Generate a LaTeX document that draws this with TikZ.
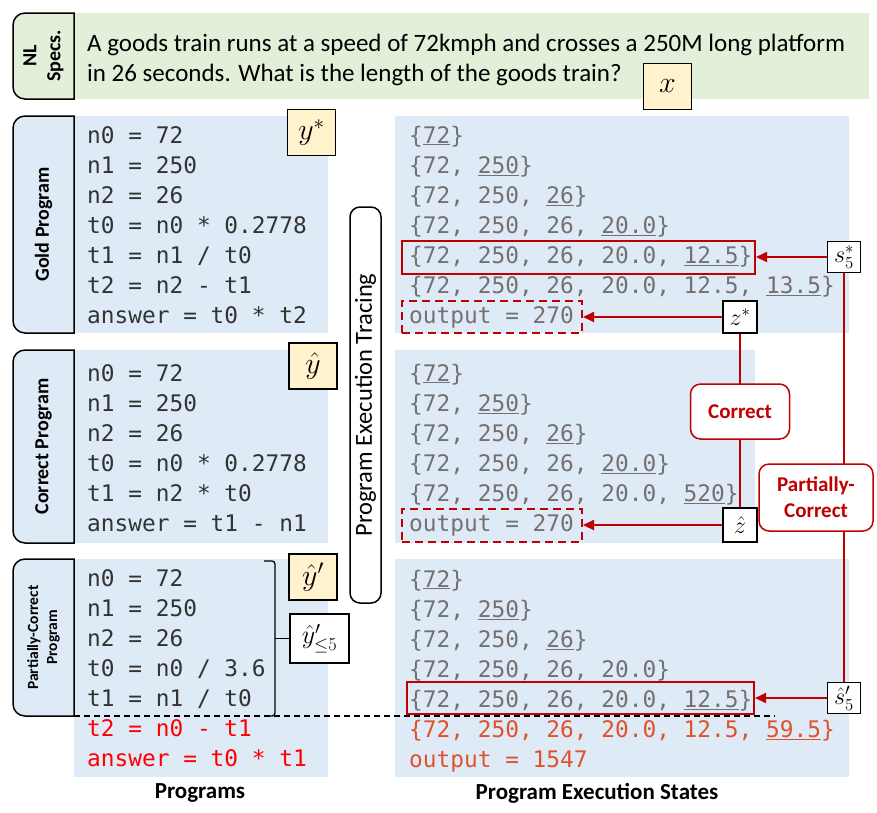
\RequirePackage{fix-cm}
\documentclass[tikz,border=0pt]{standalone}
\usepackage{fontspec}
\setmainfont{Carlito}
\setmonofont{DejaVu Sans Mono}
\usetikzlibrary{arrows.meta}
\definecolor{specGreen}{RGB}{226,240,217}
\definecolor{progBlue}{RGB}{222,235,247}
\definecolor{varYellow}{RGB}{255,242,204}
\definecolor{boxRed}{RGB}{192,0,0}
\definecolor{codeGray}{RGB}{51,51,51}
\definecolor{stateGray}{RGB}{118,113,113}
\definecolor{wrongRed}{RGB}{255,0,0}
\definecolor{stateOrange}{RGB}{224,82,43}

\tikzset{
  codeline/.style={anchor=base west, inner sep=0pt, font=\fontsize{22.8}{30}\ttfamily, text=codeGray},
  stateline/.style={codeline, text=stateGray},
  tab/.style={draw=black, line width=1.5pt},
  tablabel/.style={rotate=90, align=center, font=\fontsize{20}{24}\bfseries\selectfont},
  varbox/.style={draw=black, line width=1.5pt, fill=varYellow, minimum width=48pt, minimum height=46pt, font=\fontsize{30}{30}\selectfont},
  statebox/.style={draw=black, line width=1.5pt, fill=white, inner sep=1pt, minimum width=33pt, minimum height=31pt, font=\fontsize{24}{24}\selectfont},
  hlbox/.style={draw=boxRed, line width=2pt},
  outbox/.style={draw=boxRed, line width=2pt, dash pattern=on 8pt off 5pt},
  redline/.style={draw=boxRed, line width=2pt},
  redarrow/.style={redline, -{Triangle[length=11pt,width=10pt]}},
  verdict/.style={draw=boxRed, line width=1.5pt, fill=white, rounded corners=10pt, text=boxRed, align=center, font=\fontsize{21}{26}\bfseries\selectfont},
  bottomlabel/.style={font=\fontsize{23}{26}\bfseries\selectfont}
}

\begin{document}
\begin{tikzpicture}[x=1pt,y=-1pt]
\useasboundingbox (0,0) rectangle (877,812);

% NL specification
\fill[specGreen] (74,13) rectangle (869,99);
\draw[tab, fill=specGreen] (74,13) [rounded corners=12pt] -- (13,13) -- (13,99) [sharp corners] -- (74,99) -- cycle;
\node[tablabel] (spectab) at (43.5,56) {NL\\Specs.};
\node[anchor=base west, inner sep=0pt, font=\fontsize{25}{29}\selectfont] (spec1) at (87,51) {A goods train runs at a speed of 72kmph and crosses a 250M long platform};
\node[anchor=base west, inner sep=0pt, font=\fontsize{25}{29}\selectfont] (spec2) at (87,81) {in 26 seconds. What is the length of the goods train?};
\node[varbox] (xvar) at (667.5,86.5) {$x$};

% program backgrounds
\fill[progBlue] (74,116) rectangle (328,333);
\fill[progBlue] (74,350) rectangle (328,543);
\fill[progBlue] (74,559) rectangle (328,777);
\fill[progBlue] (395,116) rectangle (849,333);
\fill[progBlue] (395,350) rectangle (755,543);
\fill[progBlue] (395,559) rectangle (849,777);

% program tabs
\draw[tab, fill=progBlue] (74,116) [rounded corners=12pt] -- (13,116) -- (13,333) [sharp corners] -- (74,333) -- cycle;
\node[tablabel] (goldtab) at (43.5,224.5) {Gold Program};
\draw[tab, fill=progBlue] (74,350) [rounded corners=12pt] -- (13,350) -- (13,543) [sharp corners] -- (74,543) -- cycle;
\node[tablabel] (corrtab) at (43.5,446.5) {Correct Program};
\draw[tab, fill=progBlue] (74,559) [rounded corners=12pt] -- (13,559) -- (13,716) [sharp corners] -- (74,716) -- cycle;
\node[tablabel, font=\fontsize{15.5}{19}\bfseries\selectfont] (parttab) at (43.5,637.5) {Partially-Correct\\Program};

% gold program
\node[codeline] (g1) at (87,143) {n0 = 72};
\node[codeline] (g2) at (87,173) {n1 = 250};
\node[codeline] (g3) at (87,203) {n2 = 26};
\node[codeline] (g4) at (87,233) {t0 = n0 * 0.2778};
\node[codeline] (g5) at (87,263) {t1 = n1 / t0};
\node[codeline] (g6) at (87,293) {t2 = n2 - t1};
\node[codeline] (g7) at (87,323) {answer = t0 * t2};

% correct program
\node[codeline] (c1) at (87,381) {n0 = 72};
\node[codeline] (c2) at (87,411) {n1 = 250};
\node[codeline] (c3) at (87,441) {n2 = 26};
\node[codeline] (c4) at (87,471) {t0 = n0 * 0.2778};
\node[codeline] (c5) at (87,501) {t1 = n2 * t0};
\node[codeline] (c6) at (87,531) {answer = t1 - n1};

% partially-correct program
\node[codeline] (p1) at (87,586) {n0 = 72};
\node[codeline] (p2) at (87,616) {n1 = 250};
\node[codeline] (p3) at (87,646) {n2 = 26};
\node[codeline] (p4) at (87,676) {t0 = n0 / 3.6};
\node[codeline] (p5) at (87,706) {t1 = n1 / t0};
\node[codeline, text=wrongRed] (p6) at (87,736) {t2 = n0 - t1};
\node[codeline, text=wrongRed] (p7) at (87,766) {answer = t0 * t1};

\draw[line width=1.2pt, dash pattern=on 6pt off 4pt] (74,716) -- (775,716);

\node[varbox] (ygold) at (311.5,132.5) {$y^*$};
\node[varbox] (yhat) at (313,366) {$\hat{y}$};
\node[varbox] (yprime) at (313,577) {$\hat{y}'$};
\node[varbox, fill=white, minimum width=59pt, minimum height=49pt, font=\fontsize{26}{26}\selectfont] (yprefix) at (319.5,638.5) {$\hat{y}'_{\le 5}$};

% brace over the first five lines
\draw[line width=1.3pt, rounded corners=3pt] (264,561) -- (275,561) -- (275,716) -- (264,716);
\draw[line width=1.3pt] (275,638.5) -- (yprefix.west);

% tracing
\node[draw=black, line width=1.5pt, rounded corners=10pt, rotate=90, minimum width=396pt, minimum height=31pt, inner sep=0pt, font=\fontsize{24.5}{26}\selectfont] (tracing) at (365.5,405) {Program Execution Tracing};

% gold states
\node[stateline] (gs1) at (409,143) {\{\underline{72}\}};
\node[stateline] (gs2) at (409,173) {\{72, \underline{250}\}};
\node[stateline] (gs3) at (409,203) {\{72, 250, \underline{26}\}};
\node[stateline] (gs4) at (409,233) {\{72, 250, 26, \underline{20.0}\}};
\node[stateline] (gs5) at (409,263) {\{72, 250, 26, 20.0, \underline{12.5}\}};
\node[stateline] (gs6) at (409,293) {\{72, 250, 26, 20.0, 12.5, \underline{13.5}\}};
\node[stateline] (gs7) at (409,323) {output = 270};

% correct states
\node[stateline] (cs1) at (409,381) {\{\underline{72}\}};
\node[stateline] (cs2) at (409,411) {\{72, \underline{250}\}};
\node[stateline] (cs3) at (409,441) {\{72, 250, \underline{26}\}};
\node[stateline] (cs4) at (409,471) {\{72, 250, 26, \underline{20.0}\}};
\node[stateline] (cs5) at (409,501) {\{72, 250, 26, 20.0, \underline{520}\}};
\node[stateline] (cs6) at (409,531) {output = 270};

% partially-correct states
\node[stateline] (ps1) at (409,587) {\{\underline{72}\}};
\node[stateline] (ps2) at (409,617) {\{72, \underline{250}\}};
\node[stateline] (ps3) at (409,647) {\{72, 250, \underline{26}\}};
\node[stateline] (ps4) at (409,677) {\{72, 250, 26, 20.0\}};
\node[stateline] (ps5) at (409,707) {\{72, 250, 26, 20.0, \underline{12.5}\}};
\node[stateline, text=stateOrange] (ps6) at (409,737) {\{72, 250, 26, 20.0, 12.5, \underline{59.5}\}};
\node[stateline, text=stateOrange] (ps7) at (409,767) {output = 1547};

% highlighted states
\node[hlbox, minimum width=353pt, minimum height=33pt] (goldhl) at (578.5,257) {};
\node[outbox, minimum width=180pt, minimum height=32pt] (goldout) at (492,317) {};
\node[outbox, minimum width=180pt, minimum height=33pt] (corrout) at (492,525) {};
\node[hlbox, minimum width=347pt, minimum height=32pt] (parthl) at (580.5,698) {};

\node[statebox] (sgold) at (844,257) {$s_5^*$};
\node[statebox, minimum width=34pt, minimum height=32pt] (zgold) at (740,317) {$z^*$};
\node[statebox, minimum width=34pt, minimum height=34pt] (zhat) at (740,525) {$\hat{z}$};
\node[statebox] (shat) at (844,698) {$\hat{s}'_5$};

\draw[redline] (zgold) -- (zhat);
\draw[redline] (sgold) -- (shat);
\node[verdict, minimum width=99pt, minimum height=55pt] (correct) at (740,411.5) {Correct};
\node[verdict, minimum width=114pt, minimum height=67pt] (partial) at (816,497.5) {Partially-\\Correct};

\draw[redarrow] (sgold) -- (goldhl);
\draw[redarrow] (zgold) -- (goldout);
\draw[redarrow] (zhat) -- (corrout);
\draw[redarrow] (shat) -- (parthl);

\node[bottomlabel] (proglabel) at (200,793) {Programs};
\node[bottomlabel] (statelabel) at (597,793) {Program Execution States};
\end{tikzpicture}
\end{document}
